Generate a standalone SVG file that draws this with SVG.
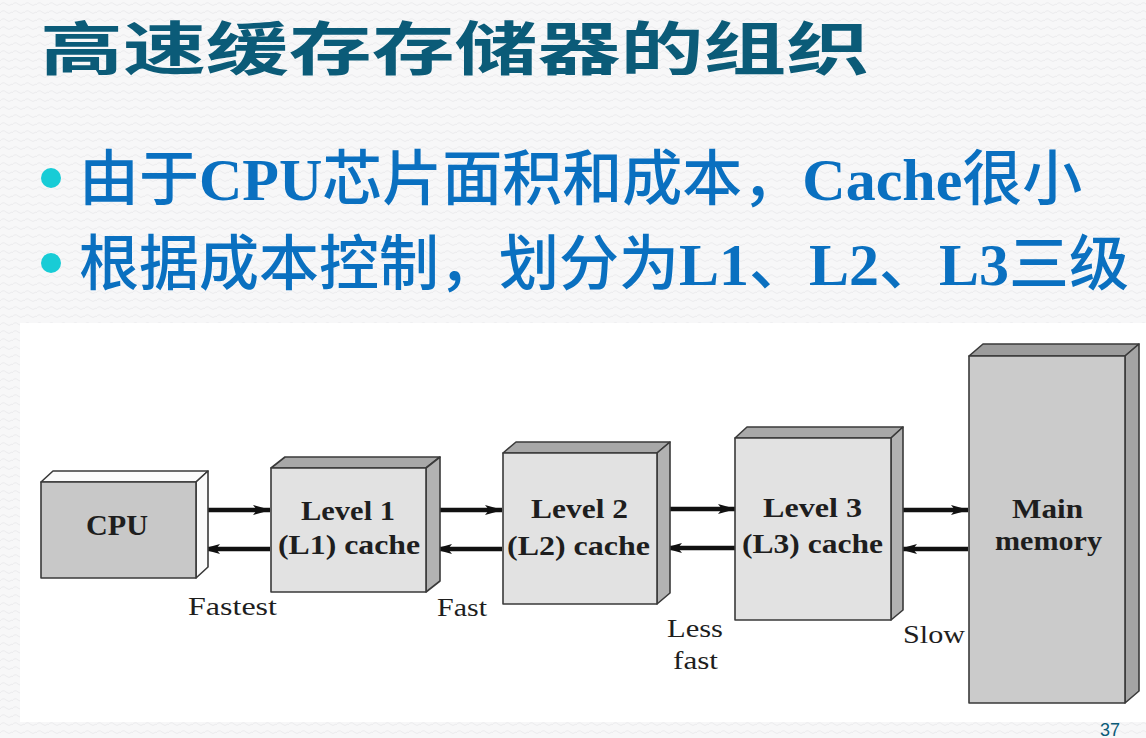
<svg xmlns="http://www.w3.org/2000/svg" width="1146" height="738" viewBox="0 0 1146 738">
  <defs>
    <pattern id="bgpat" width="12" height="8" patternUnits="userSpaceOnUse">
      <rect width="12" height="8" fill="#f7f7f8"/>
      <path d="M0 5 Q3 1 6 4 T12 4" fill="none" stroke="#ececee" stroke-width="1"/>
    </pattern>
    <marker id="ah" viewBox="0 0 18 12" refX="17" refY="6" markerWidth="18" markerHeight="12" markerUnits="userSpaceOnUse" orient="auto">
      <path d="M0 1 L18 6 L0 11 L4 6 Z" fill="#111"/>
    </marker>
    <style>
      .title { font-family: "Noto Sans CJK SC", sans-serif; font-weight: 700; font-size: 58px; fill: #0b5b78; }
      .bul { font-family: "Liberation Serif", "Noto Sans CJK SC", serif; font-weight: 700; font-size: 60px; fill: #0a70c0; }
      .cjk { font-family: "Noto Sans CJK SC", sans-serif; font-weight: 500; }
      .dot { fill: #18ccd6; }
      .face { stroke: #3a3a3a; stroke-width: 1.6; stroke-linejoin: round; }
      .lbl { font-family: "Liberation Serif", serif; font-weight: 700; font-size: 27px; fill: #1e1e1e; }
      .cap { font-family: "Liberation Serif", serif; font-size: 26px; fill: #1e1e1e; }
      .conn { fill: none; stroke: #111; stroke-width: 4.5; marker-end: url(#ah); }
      .pg { font-family: "Liberation Sans", sans-serif; font-size: 18px; fill: #0b5b78; }
    </style>
  </defs>

  <rect width="1146" height="738" fill="url(#bgpat)"/>

  <g id="title">
    <text class="title" transform="translate(40,70) scale(1.43,1)">高速缓存存储器的组织</text>
  </g>

  <g id="bullets">
    <circle class="dot" cx="51" cy="178" r="10"/>
    <text class="bul" x="79" y="200"><tspan class="cjk">由于</tspan>CPU<tspan class="cjk">芯片面积和成本，</tspan>Cache<tspan class="cjk">很小</tspan></text>
    <circle class="dot" cx="51" cy="263" r="10"/>
    <text class="bul" x="79" y="285"><tspan class="cjk">根据成本控制，划分为</tspan>L1<tspan class="cjk">、</tspan>L2<tspan class="cjk">、</tspan>L3<tspan class="cjk">三级</tspan></text>
  </g>

  <rect id="figure-bg" x="20" y="323" width="1126" height="399" fill="#ffffff"/>

  <g id="connectors">
    <path class="conn" d="M200 510 L270 510"/>
    <path class="conn" d="M270 549 L203 549"/>
    <path class="conn" d="M433 510 L502 510"/>
    <path class="conn" d="M502 549 L435 549"/>
    <path class="conn" d="M663 509 L735 509"/>
    <path class="conn" d="M735 548 L665 548"/>
    <path class="conn" d="M895 510 L968 510"/>
    <path class="conn" d="M968 549 L900 549"/>
  </g>

  <g id="cpu">
    <polygon class="face" points="41,482 53,471 208,471 196,482" fill="#fbfbfb"/>
    <polygon class="face" points="196,482 208,471 208,567 196,578" fill="#fbfbfb"/>
    <rect class="face" x="41" y="482" width="155" height="96" fill="#c8c8c8"/>
    <text class="lbl" x="86" y="535" textLength="62" lengthAdjust="spacingAndGlyphs" style="font-size:30px">CPU</text>
  </g>

  <g id="l1">
    <polygon class="face" points="271,468 285,457 440,457 426,468" fill="#a8a8a8"/>
    <polygon class="face" points="426,468 440,457 440,581 426,592" fill="#b2b2b2"/>
    <rect class="face" x="271" y="468" width="155" height="124" fill="#e2e2e2"/>
    <text class="lbl" x="301" y="520" textLength="94" lengthAdjust="spacingAndGlyphs">Level 1</text>
    <text class="lbl" x="278" y="554" textLength="142" lengthAdjust="spacingAndGlyphs">(L1) cache</text>
  </g>

  <g id="l2">
    <polygon class="face" points="503,453 516,442 670,442 657,453" fill="#a8a8a8"/>
    <polygon class="face" points="657,453 670,442 670,593 657,604" fill="#b2b2b2"/>
    <rect class="face" x="503" y="453" width="154" height="151" fill="#e2e2e2"/>
    <text class="lbl" x="531" y="518" textLength="97" lengthAdjust="spacingAndGlyphs">Level 2</text>
    <text class="lbl" x="507" y="555" textLength="143" lengthAdjust="spacingAndGlyphs">(L2) cache</text>
  </g>

  <g id="l3">
    <polygon class="face" points="735,438 747,427 903,427 891,438" fill="#a8a8a8"/>
    <polygon class="face" points="891,438 903,427 903,610 891,620" fill="#b2b2b2"/>
    <rect class="face" x="735" y="438" width="156" height="182" fill="#e2e2e2"/>
    <text class="lbl" x="763" y="517" textLength="99" lengthAdjust="spacingAndGlyphs">Level 3</text>
    <text class="lbl" x="742" y="553" textLength="141" lengthAdjust="spacingAndGlyphs">(L3) cache</text>
  </g>

  <g id="main-memory">
    <polygon class="face" points="969,356 983,344 1139,344 1125,356" fill="#9c9c9c"/>
    <polygon class="face" points="1125,356 1139,344 1139,691 1125,703" fill="#a4a4a4"/>
    <rect class="face" x="969" y="356" width="156" height="347" fill="#cbcbcb"/>
    <text class="lbl" x="1012" y="518" textLength="71" lengthAdjust="spacingAndGlyphs">Main</text>
    <text class="lbl" x="995" y="550" textLength="107" lengthAdjust="spacingAndGlyphs">memory</text>
  </g>

  <g id="speed-labels">
    <text class="cap" x="188" y="615" textLength="89" lengthAdjust="spacingAndGlyphs">Fastest</text>
    <text class="cap" x="437" y="616" textLength="50" lengthAdjust="spacingAndGlyphs">Fast</text>
    <text class="cap" x="667" y="637" textLength="56" lengthAdjust="spacingAndGlyphs">Less</text>
    <text class="cap" x="673" y="669" textLength="45" lengthAdjust="spacingAndGlyphs">fast</text>
    <text class="cap" x="903" y="643" textLength="62" lengthAdjust="spacingAndGlyphs">Slow</text>
  </g>

  <text class="pg" x="1100" y="736">37</text>
</svg>
